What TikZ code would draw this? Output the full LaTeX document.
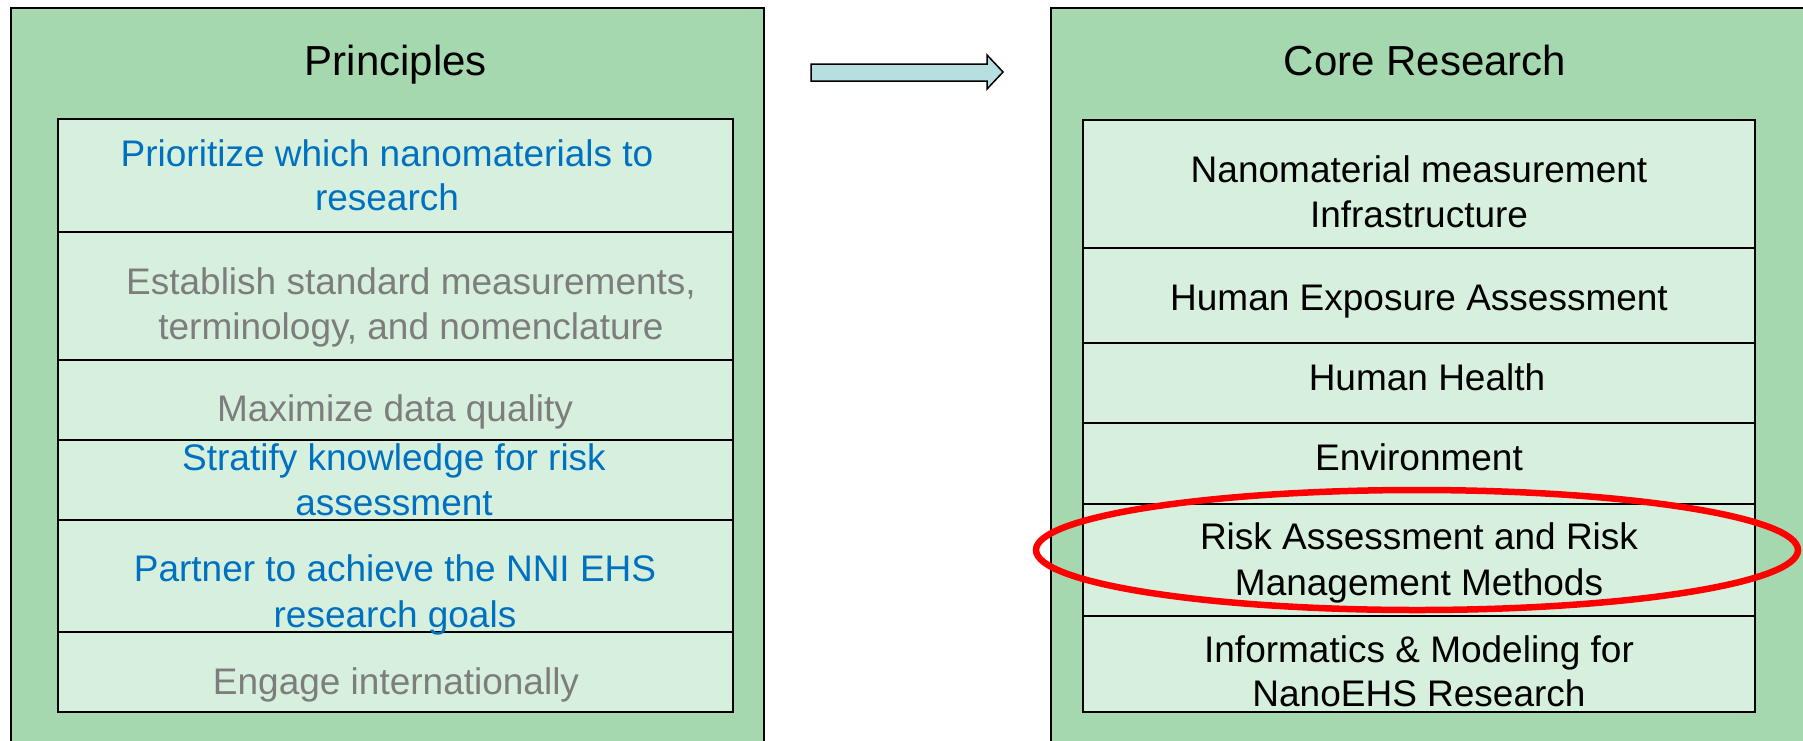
\documentclass[tikz,border=0pt]{standalone}
\usepackage{fontspec}
\setmainfont{Liberation Sans}
\definecolor{outergreen}{RGB}{166,216,176}
\definecolor{innergreen}{RGB}{215,240,222}
\definecolor{txtblue}{RGB}{0,112,192}
\definecolor{txtgray}{RGB}{125,125,125}
\definecolor{arrowfill}{RGB}{183,222,225}
\definecolor{ringred}{RGB}{255,0,0}
\begin{document}
\begin{tikzpicture}[x=1pt,y=-1pt,
  outerbox/.style={draw=black,line width=2pt,fill=outergreen,inner sep=0pt,outer sep=0pt},
  rowbox/.style={draw=black,line width=2.5pt,fill=innergreen,inner sep=0pt,outer sep=0pt},
  titletxt/.style={font=\fontsize{42}{50}\selectfont,anchor=base,inner sep=0pt},
  bodytxt/.style={font=\fontsize{37}{44}\selectfont,anchor=base,inner sep=0pt},
  bluetxt/.style={bodytxt,text=txtblue},
  graytxt/.style={bodytxt,text=txtgray},
  blacktxt/.style={bodytxt,text=black}]
\useasboundingbox (0,0) rectangle (1803,740);
\clip (0,0) rectangle (1803,740);
\fill[white] (0,0) rectangle (1803,740);
% outer boxes
\node[outerbox,minimum width=753pt,minimum height=752pt] (LO) at (387.5,384) {};
\node[outerbox,minimum width=779pt,minimum height=752pt] (RO) at (1440.5,384) {};
% left rows
\node[rowbox,minimum width=675pt,minimum height=113pt] (L1) at (395.5,175.5) {};
\node[rowbox,minimum width=675pt,minimum height=128pt] (L2) at (395.5,296) {};
\node[rowbox,minimum width=675pt,minimum height=80pt] (L3) at (395.5,400) {};
\node[rowbox,minimum width=675pt,minimum height=80pt] (L4) at (395.5,480) {};
\node[rowbox,minimum width=675pt,minimum height=112pt] (L5) at (395.5,576) {};
\node[rowbox,minimum width=675pt,minimum height=80pt] (L6) at (395.5,672) {};
% right rows
\node[rowbox,minimum width=672pt,minimum height=128pt] (R1) at (1419,184) {};
\node[rowbox,minimum width=672pt,minimum height=95pt] (R2) at (1419,295.5) {};
\node[rowbox,minimum width=672pt,minimum height=80pt] (R3) at (1419,383) {};
\node[rowbox,minimum width=672pt,minimum height=81pt] (R4) at (1419,463.5) {};
\node[rowbox,minimum width=672pt,minimum height=112pt] (R5) at (1419,560) {};
\node[rowbox,minimum width=672pt,minimum height=96pt] (R6) at (1419,664) {};
% titles
\node[titletxt] (LT) at (396,75) {Principles};
\node[titletxt] (RT) at (1425,75) {Core Research};
% left texts
\node[bluetxt] (l1a) at (387,166) {Prioritize which nanomaterials to};
\node[bluetxt] (l1b) at (387,210) {research};
\node[graytxt] (l2a) at (411,294) {Establish standard measurements,};
\node[graytxt] (l2b) at (411,339) {terminology, and nomenclature};
\node[graytxt] (l3) at (395,421) {Maximize data quality};
\node[bluetxt] (l4a) at (394,470) {Stratify knowledge for risk};
\node[bluetxt] (l4b) at (394,515) {assessment};
\node[bluetxt] (l5a) at (395,581) {Partner to achieve the NNI EHS};
\node[bluetxt] (l5b) at (395,627) {research goals};
\node[graytxt] (l6) at (396,694) {Engage internationally};
% right texts
\node[blacktxt] (r1a) at (1419,182) {Nanomaterial measurement};
\node[blacktxt] (r1b) at (1419,227) {Infrastructure};
\node[blacktxt] (r2) at (1419,310) {Human Exposure Assessment};
\node[blacktxt] (r3) at (1427,390) {Human Health};
\node[blacktxt] (r4) at (1419,470) {Environment};
\node[blacktxt] (r5a) at (1419,549) {Risk Assessment and Risk};
\node[blacktxt] (r5b) at (1419,595) {Management Methods};
\node[blacktxt] (r6a) at (1419,662) {Informatics \& Modeling for};
\node[blacktxt] (r6b) at (1419,706) {NanoEHS Research};
% highlight ring
\draw[ringred,line width=6.5pt] (1417,550) ellipse [x radius=381, y radius=60];
% block arrow
\draw[black,line width=1.5pt,fill=arrowfill,line join=miter]
  (811,64) -- (987,64) -- (987,55) -- (1003,72) -- (987,89) -- (987,81) -- (811,81) -- cycle;
\end{tikzpicture}
\end{document}
